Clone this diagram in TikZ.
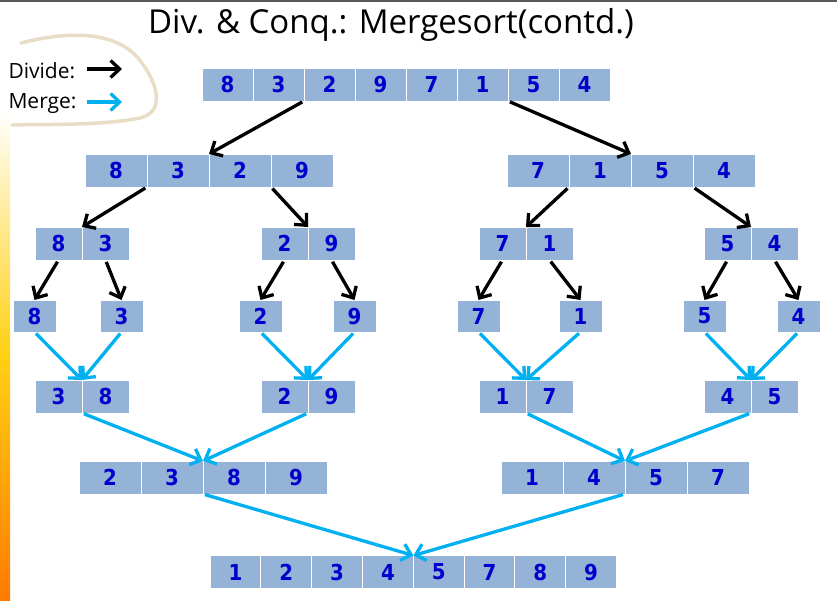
\documentclass[tikz,border=0pt]{standalone}
\usepackage{fontspec}
\setmainfont{Open Sans}
\newfontfamily\numfont{DejaVu Sans Condensed Bold}
\usepackage{tikz}
\usetikzlibrary{positioning}
\usetikzlibrary{arrows.meta}
\definecolor{cellblue}{RGB}{149,179,215}
\definecolor{numblue}{RGB}{0,0,204}
\definecolor{mergeblue}{RGB}{0,176,240}
\definecolor{loopbeige}{RGB}{233,221,199}
\definecolor{bargold}{RGB}{255,208,20}
\definecolor{barorange}{RGB}{255,122,0}

\begin{document}
\begin{tikzpicture}[x=1pt, y=-1pt]
		\tikzset{cell/.style={fill=cellblue, draw=white, line width=1pt, inner sep=0pt, outer sep=0pt, minimum height=33, text=numblue, font=\numfont\fontsize{22}{22}\selectfont}}
		\tikzset{wide/.style={cell, minimum width=62}, mid/.style={cell, minimum width=51}, pair/.style={cell, minimum width=47}, leaf/.style={cell, minimum width=43, minimum height=32}}
		\tikzset{divide/.style={-{Straight Barb[length=9pt, width=17pt, line width=3.3pt]}, line width=3.3pt, draw=black, shorten <=2pt}}
		\tikzset{merge/.style={divide, draw=mergeblue}}
		\useasboundingbox (0,0) rectangle (837,600);
		\fill[gray!70!black] (0,0) rectangle (837,1.5);
		\shade[top color=white, bottom color=barorange, middle color=bargold] (0,110) rectangle (10,600);

		% title and legend
		\node[anchor=base, font=\fontsize{33}{33}\selectfont] (title) at (391,33) {Div. \& Conq.: Mergesort(contd.)};
		\draw[loopbeige, line width=3.5pt, line cap=round] (21,43) .. controls (60,33) and (112,28) .. (138,58) .. controls (158,82) and (166,112) .. (140,118) .. controls (100,126) and (40,124) .. (12,125);
		\node[anchor=base west, font=\fontsize{21}{21}\selectfont] (divtxt) at (5,78) {Divide:};
		\node[anchor=base west, font=\fontsize{21}{21}\selectfont] (mrgtxt) at (5,108) {Merge:};
		\coordinate (divstart) at (85,69);
		\coordinate (divend) at (122,69);
		\coordinate (mrgstart) at (85,102);
		\coordinate (mrgend) at (122,102);
		\draw[divide] (divstart) -- (divend);
		\draw[merge] (mrgstart) -- (mrgend);

		% divide rows
		\foreach \v [count=\i] in {8,3,2,9,7,1,5,4}
			\node[mid] (a\i) at ({227.5+51*(\i-1)},84.5) {\v};
		\foreach \v [count=\i] in {8,3,2,9}
			\node[wide] (bL\i) at ({116+62*(\i-1)},170.5) {\v};
		\foreach \v [count=\i] in {7,1,5,4}
			\node[wide] (bR\i) at ({538+62*(\i-1)},170.5) {\v};
		\foreach \x/\p/\q [count=\i] in {35/8/3, 261/2/9, 479/7/1, 704/5/4}{
			\node[pair] (cl\i) at (\x+23.5,243.5) {\p};
			\node[pair, right=0pt of cl\i] (cr\i) {\q};
		}
		\foreach \x/\v [count=\i] in {13/8, 100/3, 239/2, 333/9, 457/7, 559/1, 683/5, 777/4}
			\node[leaf] (d\i) at (\x+21.5,316) {\v};

		% merge rows
		\foreach \x/\p/\q [count=\i] in {35/3/8, 261/2/9, 479/1/7, 704/4/5}{
			\node[pair] (el\i) at (\x+23.5,396.5) {\p};
			\node[pair, right=0pt of el\i] (er\i) {\q};
		}
		\foreach \v [count=\i] in {2,3,8,9}
			\node[wide] (f\i) at ({110+62*(\i-1)},477.5) {\v};
		\foreach \v [count=\i from 5] in {1,4,5,7}
			\node[wide] (f\i) at ({532+62*(\i-5)},477.5) {\v};
		\foreach \v [count=\i] in {1,2,3,4,5,7,8,9}
			\node[mid] (g\i) at ({235.5+50.8*(\i-1)},572) {\v};

		% divide arrows
		\draw[divide] (a3.south west) -- (bL3.north west);
		\draw[divide] (a6.south east) -- (bR3.north west);
		\draw[divide] (bL2.south west) -- (cl1.north east);
		\draw[divide] (bL4.south west) -- (cl2.north east);
		\draw[divide] (bR2.south west) -- (cl3.north east);
		\draw[divide] (bR4.south west) -- (cl4.north east);
		\foreach \i/\l/\r in {1/1/2, 2/3/4, 3/5/6, 4/7/8}{
			\draw[divide] (cl\i.south) -- (d\l.north);
			\draw[divide] (cr\i.south) -- (d\r.north);
		}

		% merge arrows
		\foreach \i/\l/\r in {1/1/2, 2/3/4, 3/5/6, 4/7/8}{
			\draw[merge] (d\l.south) -- (el\i.north east);
			\draw[merge] (d\r.south) -- (el\i.north east);
		}
		\draw[merge] (el1.south east) -- (f2.north east);
		\draw[merge] (el2.south east) -- (f2.north east);
		\draw[merge] (el3.south east) -- (f6.north east);
		\draw[merge] (el4.south east) -- (f6.north east);
		\draw[merge] (f2.south east) -- (g4.north east);
		\draw[merge] (f6.south east) -- (g4.north east);
\end{tikzpicture}
\end{document}
